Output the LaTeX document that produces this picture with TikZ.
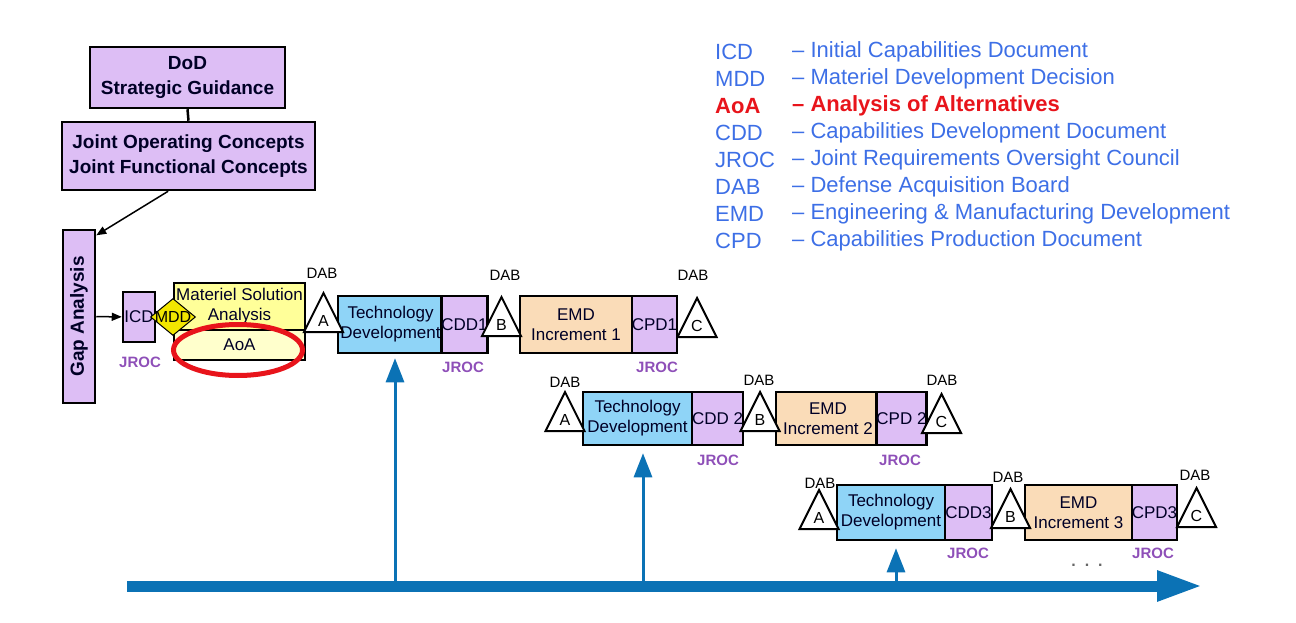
\documentclass[tikz,border=0pt]{standalone}
\usepackage{fontspec}
\setmainfont{Liberation Sans}
\usetikzlibrary{arrows.meta,shapes.geometric}

\definecolor{boxpurple}{HTML}{DDBEF5}
\definecolor{boxblue}{HTML}{8FD4F7}
\definecolor{boxorange}{HTML}{FADCB8}
\definecolor{boxyellow}{HTML}{FFFF99}
\definecolor{aoayellow}{HTML}{FFFFCC}
\definecolor{mddyellow}{HTML}{F2E600}
\definecolor{jrocpurple}{HTML}{8E4FB8}
\definecolor{lineblue}{HTML}{0B72B5}
\definecolor{legendblue}{HTML}{3D6FE6}
\definecolor{aoared}{HTML}{E8141B}

\begin{document}
\begin{tikzpicture}[x=1pt, y=-1pt]
  \tikzset{
    base_box/.style={draw, line width=2.5pt, inner sep=0pt, align=center, text=black!85!blue, font=\fontsize{17}{20}\selectfont},
    purple_box/.style={base_box, fill=boxpurple},
    blue_box/.style={base_box, fill=boxblue},
    orange_box/.style={base_box, fill=boxorange},
    yellow_box/.style={base_box, fill=boxyellow},
    aoa_box/.style={base_box, fill=aoayellow},
    top_box/.style={purple_box, font=\fontsize{19}{25}\selectfont\bfseries},
    mdd_diamond/.style={diamond, draw, line width=1pt, fill=mddyellow, inner sep=0pt, minimum width=45pt, minimum height=37pt},
    aoa_ring/.style={ellipse, draw=aoared, line width=5pt, inner sep=0pt, minimum width=129pt, minimum height=51pt},
    dab_tri/.style={isosceles triangle, shape border rotate=90, isosceles triangle stretches, draw, line width=2pt, fill=white, inner sep=0pt, minimum width=39pt, minimum height=39pt, font=\fontsize{16}{16}\selectfont},
    dab_text/.style={inner sep=0pt, font=\fontsize{15}{15}\selectfont},
    jroc_text/.style={inner sep=0pt, text=jrocpurple, font=\fontsize{15}{15}\selectfont\bfseries},
    legend_text/.style={anchor=west, inner sep=0pt, text=legendblue, font=\fontsize{22}{22}\selectfont},
    legend_red/.style={legend_text, text=aoared, font=\fontsize{22}{22}\selectfont\bfseries},
    thin_arrow/.style={line width=1.5pt, -{Triangle[length=10pt, width=8pt]}},
    milestone_arrow/.style={draw=lineblue, line width=3pt, -{Triangle[length=24pt, width=18pt]}},
    time_arrow/.style={draw=lineblue, line width=11pt, -{Triangle[length=46pt, width=28pt]}}
  }

  \useasboundingbox (0,0) rectangle (1296,623);

  % Guidance and gap analysis
  \node[top_box, minimum width=195pt, minimum height=61pt] (dod) at (187.5,77.5) {DoD\\Strategic Guidance};
  \node[top_box, minimum width=253pt, minimum height=68pt] (joint) at (188.5,156) {Joint Operating Concepts\\Joint Functional Concepts};
  \node[top_box, rotate=90, minimum width=173pt, minimum height=32pt] (gap) at (79,316.5) {Gap Analysis};

  \draw[line width=2.5pt] (dod.south) -- (joint.north);
  \draw[thin_arrow] (joint.240) -- (gap.-12);

  % Materiel solution analysis
  \node[purple_box, minimum width=32pt, minimum height=50pt] (icd) at (139,317) {ICD};
  \node[yellow_box, minimum width=131pt, minimum height=47pt] (msa) at (239.5,306.5) {Materiel Solution\\Analysis};
  \node[aoa_box, minimum width=131pt, minimum height=30pt] (aoa) at (239.5,345) {AoA};
  \node[mdd_diamond] (mdd) at (173,317) {};
  \node[inner sep=0pt, font=\fontsize{16}{16}\selectfont] (mdd_label) at (mdd) {MDD};
  \node[aoa_ring] (ring) at (238,350) {};
  \node[jroc_text] (jroc_icd) at (140,362) {JROC};

  \draw[thin_arrow] (gap) -- (icd);

  % Increment 1
  \node[blue_box, minimum width=105pt, minimum height=57pt] (tech1) at (390.5,324.5) {Technology\\Development};
  \node[purple_box, minimum width=43pt, minimum height=57pt] (cdd1) at (464.5,324.5) {CDD1};
  \node[orange_box, minimum width=112pt, minimum height=57pt] (emd1) at (576,324.5) {EMD\\Increment 1};
  \node[purple_box, minimum width=45pt, minimum height=57pt] (cpd1) at (654.5,324.5) {CPD1};
  \node[dab_tri, anchor=south] (a1) at (323.5,333) {A};
  \node[dab_tri, anchor=south] (b1) at (501.5,337) {B};
  \node[dab_tri, anchor=south] (c1) at (697,338) {C};
  \node[dab_text] (dab_a1) at (322,273) {DAB};
  \node[dab_text] (dab_b1) at (505,275) {DAB};
  \node[dab_text] (dab_c1) at (693,275) {DAB};
  \node[jroc_text] (jroc_cdd1) at (463,367) {JROC};
  \node[jroc_text] (jroc_cpd1) at (657,367) {JROC};

  % Increment 2
  \node[blue_box, minimum width=109pt, minimum height=53pt] (tech2) at (637.5,418.5) {Technology\\Development};
  \node[purple_box, minimum width=51pt, minimum height=53pt] (cdd2) at (717.5,418.5) {CDD 2};
  \node[orange_box, minimum width=104pt, minimum height=53pt] (emd2) at (828,418.5) {EMD\\Increment 2};
  \node[purple_box, minimum width=43pt, minimum height=53pt] (cpd2) at (901.5,418.5) {CPD 2};
  \node[dab_tri, anchor=south] (a2) at (565,432) {A};
  \node[dab_tri, anchor=south] (b2) at (760,432) {B};
  \node[dab_tri, anchor=south] (c2) at (941.5,434) {C};
  \node[dab_text] (dab_a2) at (565,382) {DAB};
  \node[dab_text] (dab_b2) at (759,380) {DAB};
  \node[dab_text] (dab_c2) at (942,380) {DAB};
  \node[jroc_text] (jroc_cdd2) at (718,460) {JROC};
  \node[jroc_text] (jroc_cpd2) at (900,460) {JROC};

  % Increment 3
  \node[blue_box, minimum width=108pt, minimum height=55pt] (tech3) at (891,512.5) {Technology\\Development};
  \node[purple_box, minimum width=47pt, minimum height=55pt] (cdd3) at (968.5,512.5) {CDD3};
  \node[orange_box, minimum width=107pt, minimum height=55pt] (emd3) at (1078.5,512.5) {EMD\\Increment 3};
  \node[purple_box, minimum width=45pt, minimum height=55pt] (cpd3) at (1154.5,512.5) {CPD3};
  \node[dab_tri, anchor=south] (a3) at (819,530) {A};
  \node[dab_tri, anchor=south] (b3) at (1010.5,529) {B};
  \node[dab_tri, anchor=south] (c3) at (1196.5,528) {C};
  \node[dab_text] (dab_a3) at (820,483) {DAB};
  \node[dab_text] (dab_b3) at (1008,477) {DAB};
  \node[dab_text] (dab_c3) at (1195,475) {DAB};
  \node[jroc_text] (jroc_cdd3) at (968,553) {JROC};
  \node[jroc_text] (jroc_cpd3) at (1153,553) {JROC};
  \node[inner sep=0pt, text=black!60, font=\fontsize{16}{16}\selectfont\bfseries] (dots) at (1087,565) {.\ \ .\ \ .};

  % Time line
  \coordinate (t_start) at (127,586);
  \coordinate (t_end) at (1203,586);
  \coordinate (m1) at (395,586);
  \coordinate (m2) at (643,586);
  \coordinate (m3) at (896,586);
  \draw[milestone_arrow, shorten >=4pt] (m1) -- (m1 |- tech1.south);
  \draw[milestone_arrow, shorten >=7pt] (m2) -- (m2 |- tech2.south);
  \draw[milestone_arrow, shorten >=7pt] (m3) -- (m3 |- tech3.south);
  \draw[time_arrow] (t_start) -- (t_end);

  % Legend
  \node[legend_text] (l_icd) at (715,52) {ICD};
  \node[legend_text] (l_icd_d) at (792,52) {-- Initial Capabilities Document};
  \node[legend_text] (l_mdd) at (715,79) {MDD};
  \node[legend_text] (l_mdd_d) at (792,79) {-- Materiel Development Decision};
  \node[legend_red] (l_aoa) at (715,106) {AoA};
  \node[legend_red] (l_aoa_d) at (792,106) {-- Analysis of Alternatives};
  \node[legend_text] (l_cdd) at (715,133) {CDD};
  \node[legend_text] (l_cdd_d) at (792,133) {-- Capabilities Development Document};
  \node[legend_text] (l_jroc) at (715,160) {JROC};
  \node[legend_text] (l_jroc_d) at (792,160) {-- Joint Requirements Oversight Council};
  \node[legend_text] (l_dab) at (715,187) {DAB};
  \node[legend_text] (l_dab_d) at (792,187) {-- Defense Acquisition Board};
  \node[legend_text] (l_emd) at (715,214) {EMD};
  \node[legend_text] (l_emd_d) at (792,214) {-- Engineering \& Manufacturing Development};
  \node[legend_text] (l_cpd) at (715,241) {CPD};
  \node[legend_text] (l_cpd_d) at (792,241) {-- Capabilities Production Document};
\end{tikzpicture}
\end{document}
